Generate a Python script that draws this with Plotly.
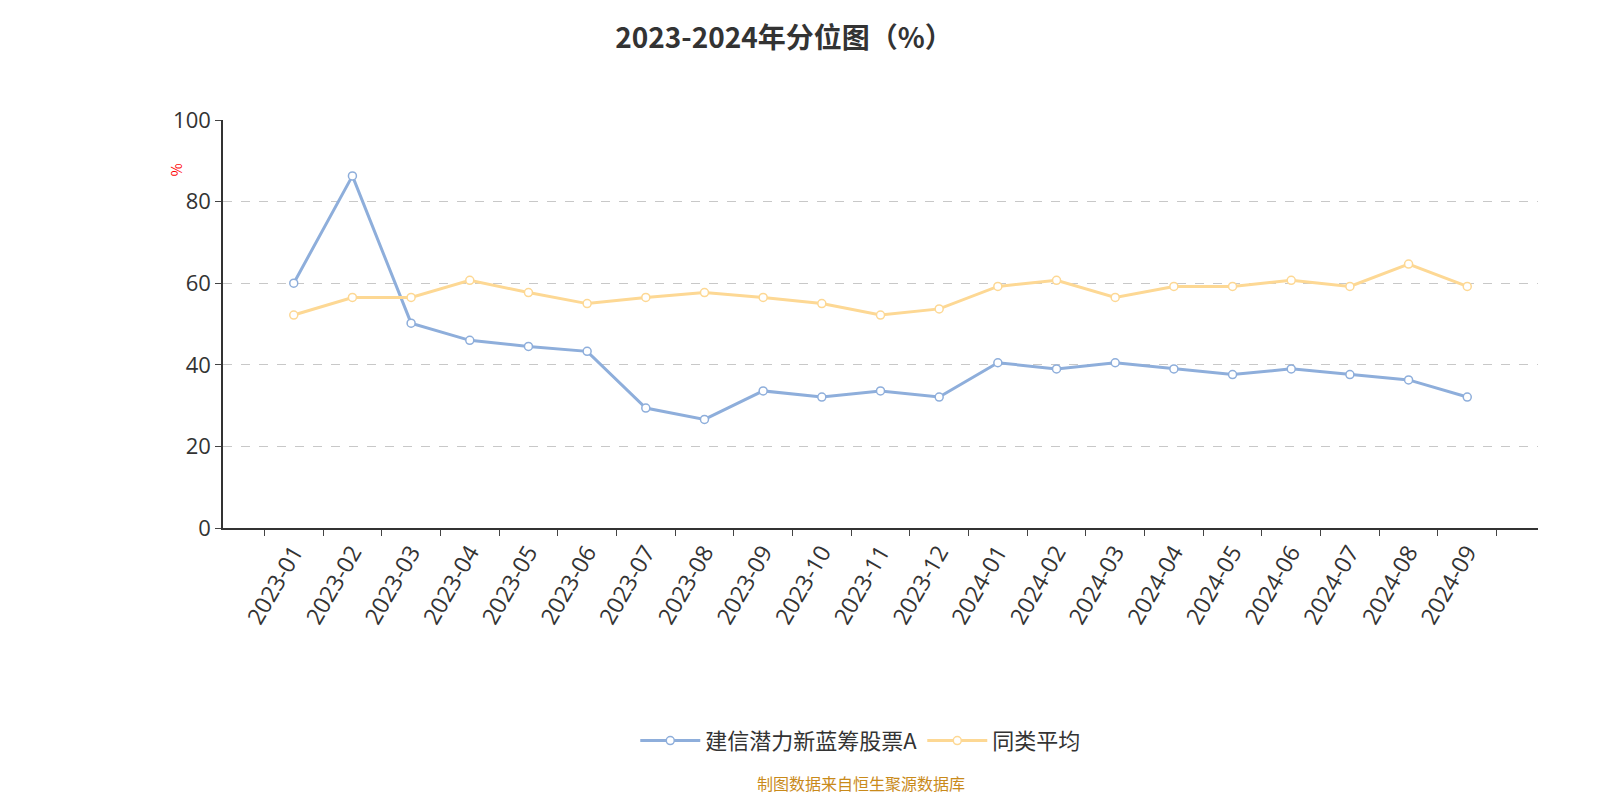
import plotly.graph_objects as go

months = ["2023-01", "2023-02", "2023-03", "2023-04", "2023-05", "2023-06", "2023-07",
          "2023-08", "2023-09", "2023-10", "2023-11", "2023-12", "2024-01", "2024-02",
          "2024-03", "2024-04", "2024-05", "2024-06", "2024-07", "2024-08", "2024-09"]
fund = [60.0, 86.3, 50.2, 46.0, 44.5, 43.3, 29.4, 26.6, 33.6, 32.1, 33.6, 32.1,
        40.5, 39.0, 40.5, 39.0, 37.6, 39.0, 37.6, 36.3, 32.1]
peer = [52.2, 56.5, 56.5, 60.7, 57.7, 55.0, 56.5, 57.7, 56.5, 55.0, 52.2, 53.7,
        59.2, 60.7, 56.5, 59.2, 59.2, 60.7, 59.2, 64.7, 59.2]

fig = go.Figure()
for name, vals, color in [("建信潜力新蓝筹股票A", fund, "#8eaedb"), ("同类平均", peer, "#fdd894")]:
    fig.add_trace(go.Scatter(
        x=months, y=vals, name=name, mode="lines+markers",
        line=dict(color=color, width=3),
        marker=dict(size=8, color="white", line=dict(color=color, width=1.5)),
    ))

fig.update_layout(
    width=1600, height=800, plot_bgcolor="white", paper_bgcolor="white",
    font=dict(family="Noto Sans CJK SC", color="#333"),
    title=dict(text="<b>2023-2024年分位图（%）</b>", x=0.485, y=0.975, font=dict(size=28, color="#333")),
    margin=dict(l=215, r=70, t=112, b=280),
    legend=dict(orientation="h", x=0.485, xanchor="center", y=-0.47, font=dict(size=22),
                itemwidth=60),
    annotations=[
        dict(text="制图数据来自恒生聚源数据库", x=0.485, xref="paper", y=-0.66, yref="paper",
             showarrow=False, font=dict(size=16, color="#c98a1a")),
        dict(text="%", x=-0.045, xref="paper", y=0.9, yref="paper", textangle=-90,
             showarrow=False, font=dict(size=14, color="red")),
    ],
)
fig.update_xaxes(type="category", showline=True, linecolor="#333", linewidth=1.5,
                 ticks="outside", tickson="boundaries", ticklen=6, tickangle=-60,
                 tickfont=dict(size=23, family="Open Sans"))
fig.update_yaxes(range=[0, 100], dtick=20, showline=True, linecolor="#333", linewidth=1.5,
                 ticks="outside", ticklen=6, gridcolor="#c8c8c8", griddash="dash",
                 zeroline=False, tickfont=dict(size=22, family="Open Sans"))
fig.write_html("out.html")
